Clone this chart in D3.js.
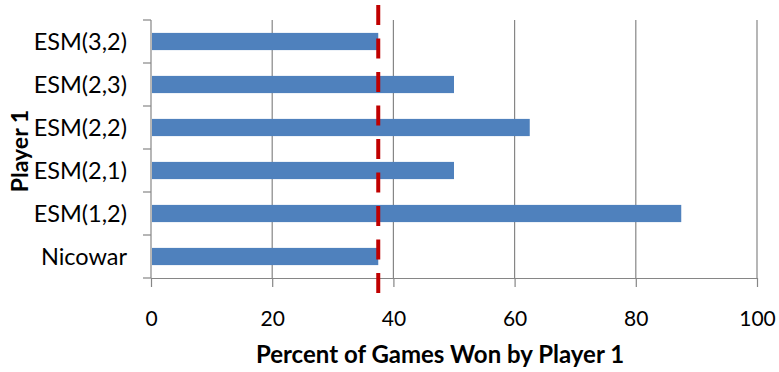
<!DOCTYPE html>
<html>
<head>
<meta charset="utf-8">
<script src="https://cdn.jsdelivr.net/npm/d3@7"></script>
<style>
  html, body { margin: 0; padding: 0; background: #fff; }
  svg { display: block; }
</style>
</head>
<body>
<svg id="chart" width="779" height="372"></svg>
<script>
// Players, top to bottom
const players = ["ESM(3,2)", "ESM(2,3)", "ESM(2,2)", "ESM(2,1)", "ESM(1,2)", "Nicowar"];
// Percent of games won by player 1
const winPct = [37.5, 50, 62.5, 50, 87.5, 37.5];
// Reference level drawn as a dashed line
const referencePct = [37.5];
// X axis ticks
const xTicks = [0, 20, 40, 60, 80, 100];

const svg = d3.select("#chart");
const margin = { left: 151, right: 22, top: 20, bottom: 94 };
const W = 779, H = 372;
const font = "Lato, 'Open Sans', sans-serif";

const x = d3.scaleLinear().domain([0, 100]).range([margin.left, W - margin.right]);
const y = d3.scaleBand().domain(players).range([margin.top, H - margin.bottom]).paddingInner(0.6).paddingOuter(0.3);

const gridColor = "#868686";

// vertical gridlines
svg.append("g")
  .selectAll("line")
  .data(xTicks.filter(t => t > 0))
  .join("line")
  .attr("x1", d => x(d)).attr("x2", d => x(d))
  .attr("y1", margin.top).attr("y2", H - margin.bottom)
  .attr("stroke", gridColor).attr("stroke-width", 1.2);

// x axis
const xAxis = svg.append("g")
  .attr("transform", `translate(0,${H - margin.bottom})`)
  .call(d3.axisBottom(x).tickValues(xTicks).tickSize(9).tickPadding(24).tickSizeOuter(0));
xAxis.select(".domain").attr("stroke", gridColor).attr("stroke-width", 1.2);
xAxis.selectAll(".tick line").attr("stroke", gridColor).attr("stroke-width", 1.2);
xAxis.selectAll("text").attr("font-family", font).attr("font-size", 21).attr("fill", "#000");

// y axis: boundary ticks between categories
const yAxisG = svg.append("g").attr("transform", `translate(${margin.left},0)`);
yAxisG.append("line")
  .attr("x1", 0).attr("x2", 0)
  .attr("y1", margin.top).attr("y2", H - margin.bottom)
  .attr("stroke", gridColor).attr("stroke-width", 1.2);
const bounds = d3.range(players.length + 1).map(i => margin.top + i * (H - margin.top - margin.bottom) / players.length);
yAxisG.selectAll("line.tk")
  .data(bounds)
  .join("line").attr("class", "tk")
  .attr("x1", -8).attr("x2", 0)
  .attr("y1", d => d).attr("y2", d => d)
  .attr("stroke", gridColor).attr("stroke-width", 1.2);
yAxisG.selectAll("text")
  .data(players)
  .join("text")
  .attr("x", -24)
  .attr("y", d => y(d) + y.bandwidth() / 2)
  .attr("dy", "0.35em")
  .attr("text-anchor", "end")
  .attr("font-family", font).attr("font-size", 23.5)
  .text(d => d);

// bars
svg.append("g")
  .selectAll("rect")
  .data(players.map((p, i) => ({ p, v: winPct[i] })))
  .join("rect")
  .attr("x", x(0) + 1)
  .attr("y", d => y(d.p))
  .attr("width", d => x(d.v) - x(0) - 1)
  .attr("height", y.bandwidth())
  .attr("fill", "#4f81bd");

// reference line
svg.append("g")
  .selectAll("line")
  .data(referencePct)
  .join("line")
  .attr("x1", d => x(d)).attr("x2", d => x(d))
  .attr("y1", 5).attr("y2", 294)
  .attr("stroke", "#c00000").attr("stroke-width", 4)
  .attr("stroke-dasharray", "20,13.5");

// axis titles
svg.append("text")
  .attr("x", 440).attr("y", 363)
  .attr("text-anchor", "middle")
  .attr("font-family", font).attr("font-weight", "bold").attr("font-size", 24)
  .text("Percent of Games Won by Player 1");

svg.append("text")
  .attr("transform", `translate(28,151) rotate(-90)`)
  .attr("text-anchor", "middle")
  .attr("font-family", font).attr("font-weight", "bold").attr("font-size", 23)
  .text("Player 1");
</script>
</body>
</html>
